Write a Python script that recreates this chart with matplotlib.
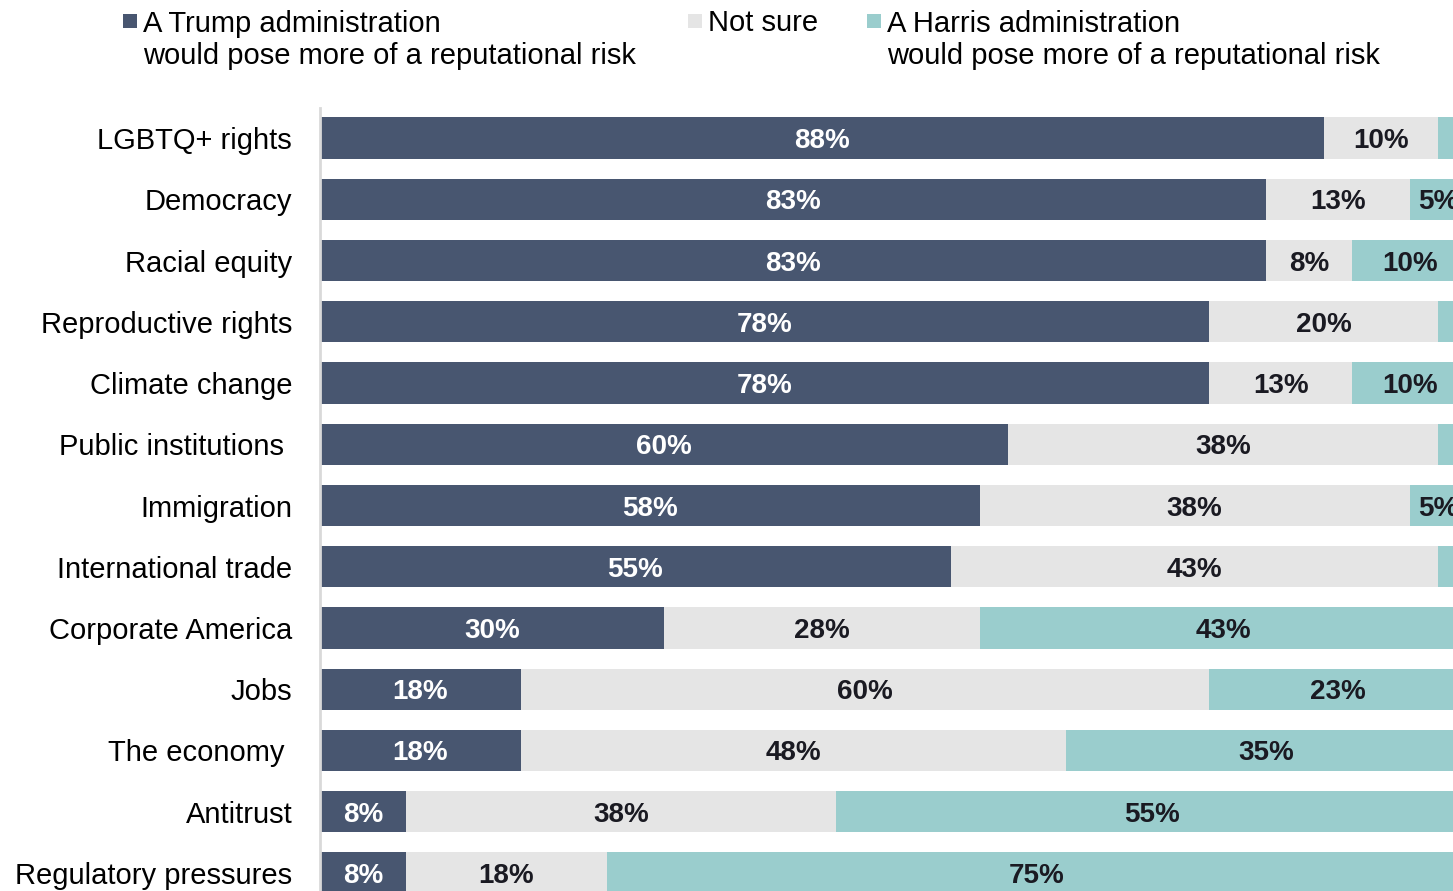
import matplotlib
matplotlib.use("Agg")
import matplotlib.pyplot as plt
from matplotlib.patches import Rectangle

categories = ["LGBTQ+ rights", "Democracy", "Racial equity", "Reproductive rights",
              "Climate change", "Public institutions ", "Immigration", "International trade",
              "Corporate America", "Jobs", "The economy ", "Antitrust", "Regulatory pressures"]
trump = [87.5, 82.5, 82.5, 77.5, 77.5, 60.0, 57.5, 55.0, 30.0, 17.5, 17.5, 7.5, 7.5]
not_sure = [10.0, 12.5, 7.5, 20.0, 12.5, 37.5, 37.5, 42.5, 27.5, 60.0, 47.5, 37.5, 17.5]
harris = [2.5, 5.0, 10.0, 2.5, 10.0, 2.5, 5.0, 2.5, 42.5, 22.5, 35.0, 55.0, 75.0]

series_names = ["A Trump administration\nwould pose more of a reputational risk",
                "Not sure",
                "A Harris administration\nwould pose more of a reputational risk"]
colors = ["#485670", "#E5E5E5", "#9ACDCD"]
label_colors = ["white", "#1A1A22", "#1A1A22"]

plt.rcParams['font.family'] = ['Liberation Sans', 'DejaVu Sans']

W, H = 1453, 891
fig = plt.figure(figsize=(W / 100, H / 100), dpi=100)

# axes: x 0..100 maps to px 320..1467 ; y rows from px 108 to 891
ax_left = 320 / W
ax_width = 1147 / W
ax_bottom = 0.0
ax_height = 783 / H
ax = fig.add_axes([ax_left, ax_bottom, ax_width, ax_height])

y = list(range(len(categories)))
lefts = [0.0] * len(categories)
for vals, col, lc in zip([trump, not_sure, harris], colors, label_colors):
    ax.barh(y, vals, left=lefts, height=0.67, color=col, edgecolor='none')
    for i, v in enumerate(vals):
        if v >= 4:
            txt = f"{int(v + 0.5)}%"
            ax.text(lefts[i] + v / 2, i, txt, ha='center', va='center_baseline',
                    color=lc, fontsize=20, fontweight='bold', clip_on=False)
    lefts = [a + b for a, b in zip(lefts, vals)]

ax.set_xlim(0, 100)
ax.set_ylim(12.294, -0.49)
ax.set_yticks(y)
ax.set_yticklabels(categories, fontsize=21, color='black')
ax.tick_params(axis='y', length=0, pad=20)
ax.set_xticks([])
for s in ['top', 'right', 'bottom']:
    ax.spines[s].set_visible(False)
ax.spines['left'].set_color('#D9D9D9')
ax.spines['left'].set_linewidth(2)

# legend (manual, figure pixel coordinates)
leg_items = [(123, 143), (688, 708), (867, 887)]
for (mx, tx), name, col in zip(leg_items, series_names, colors):
    fig.add_artist(Rectangle((mx / W, 1 - 28 / H), 14 / W, 14 / H,
                             transform=fig.transFigure, color=col, lw=0))
    n_lines = name.count("\n") + 1
    base = 31 + 33 * (n_lines - 1)
    fig.text(tx / W, 1 - base / H, name, ha='left', va='baseline',
             fontsize=21, color='black', linespacing=1.2)

fig.savefig("out.png", dpi=100)
